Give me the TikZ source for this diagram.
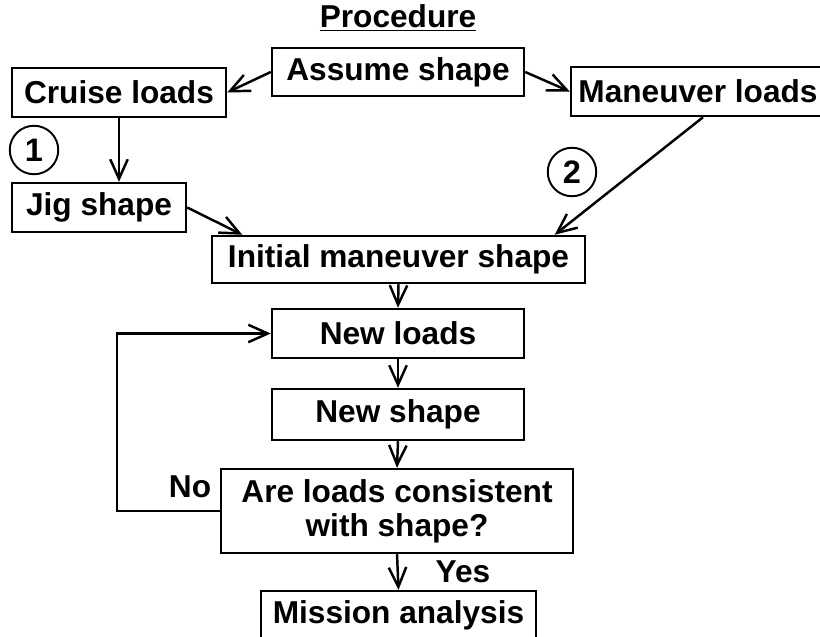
\documentclass[tikz,border=0pt]{standalone}
\usepackage{fontspec}
\setmainfont{Liberation Sans}
\usetikzlibrary{arrows.meta}

\begin{document}
\begin{tikzpicture}[>={Straight Barb[length=3.9mm,width=3.5mm]}, line width=1.4pt,
  box/.style={draw, inner sep=0pt, minimum height=0.98cm, font=\fontsize{18}{19.5}\selectfont\bfseries},
  lbl/.style={inner sep=0pt, font=\fontsize{18}{19.5}\selectfont\bfseries},
  num/.style={draw, circle, line width=1.1pt, inner sep=0pt, minimum size=0.97cm, font=\fontsize{18.5}{19.5}\selectfont\bfseries}]

  \useasboundingbox (0,0) rectangle (16.4,12.72);

  % --- 1. title and first row ---
  \node[lbl, anchor=base] (title) at (7.96,12.16) {\underline{Procedure}};
  \node[box, minimum width=5.04cm, minimum height=0.96cm] (assume) at (7.96,11.28) {Assume shape};
  \node[box, minimum width=4.28cm] (cruise) at (2.38,10.87) {Cruise loads};
  \node[box, minimum width=5.08cm] (maneuver) at (13.96,10.89) {Maneuver loads};

  % --- 2. the two routes ---
  \node[box, minimum width=3.48cm] (jig) at (1.98,8.57) {Jig shape};
  \node[num] (one) at (0.68,9.72) {1};
  \node[num] (two) at (11.44,9.28) {2};
  \node[box, minimum width=7.46cm, minimum height=0.94cm] (initial) at (7.97,7.53) {Initial maneuver shape};

  % --- 3. iteration loop ---
  \node[box, minimum width=5.04cm] (newloads) at (7.96,6.05) {New loads};
  \node[box, minimum width=5.04cm, minimum height=1.02cm] (newshape) at (7.96,4.43) {New shape};
  \node[box, minimum width=7.04cm, minimum height=1.68cm, align=center] (decision) at (7.94,2.5)
    {Are loads consistent\\with shape?};
  \node[box, minimum width=5.5cm] (mission) at (7.97,0.41) {Mission analysis};

  \node[lbl] (no) at (3.8,2.98) {No};
  \node[lbl] (yes) at (9.26,1.28) {Yes};
  \coordinate (loopleft) at (2.34,6.05);

  % --- 4. arrows ---
  \draw[->] (assume.west) -- (cruise.east);
  \draw[->] (assume.east) -- (maneuver.west);
  \draw[->] (cruise.south) -- (cruise.south |- jig.north);
  \draw[->] (jig.east) -- (initial.171.5);
  \draw[->] (maneuver.south -| 14.06,0) -- (initial.9);
  \draw[->] (initial.south) -- (newloads.north);
  \draw[->] (newloads.south) -- (newshape.north);
  \draw[->] (newshape.south) -- (decision.north);
  \draw[->] (decision.south) -- (mission.north);
  \draw[->] (decision.west) -| (loopleft) -- (newloads.west);

\end{tikzpicture}
\end{document}
